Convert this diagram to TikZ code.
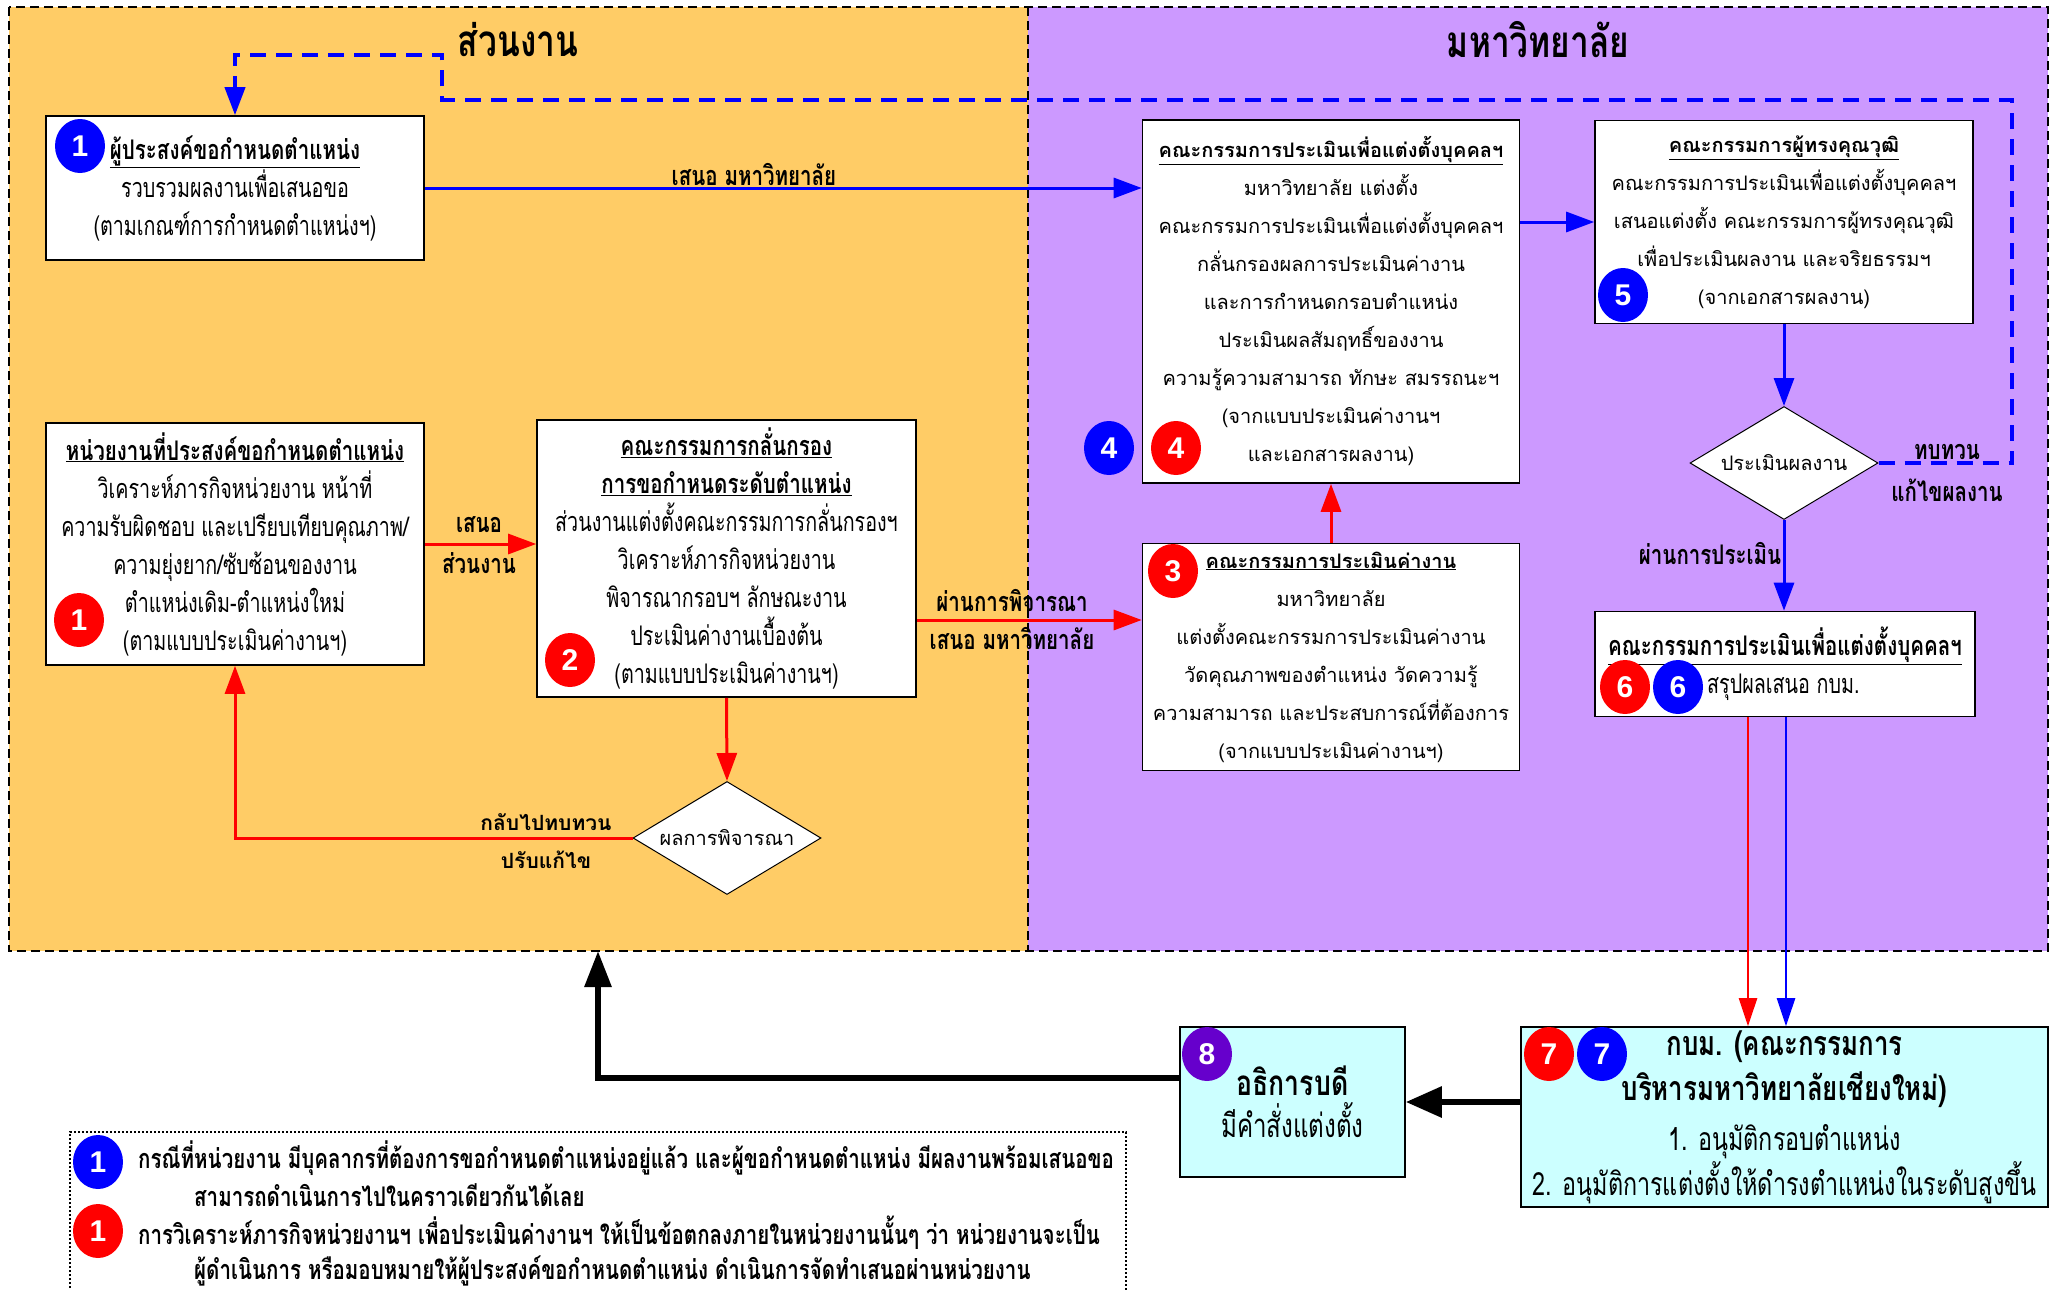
\documentclass[tikz,border=0pt]{standalone}
\usepackage{fontspec}
\usetikzlibrary{shapes.geometric,arrows.meta}
\newfontfamily\thaiN[Script=Thai,FakeStretch=0.73,BoldFeatures={FakeStretch=0.76}]{Loma}
\newfontfamily\thaiL[Script=Thai]{Loma}
\newfontfamily\numf{Liberation Sans}
\definecolor{orangebg}{RGB}{255,204,102}
\definecolor{purplebg}{RGB}{204,153,255}
\definecolor{cyanbg}{RGB}{204,255,255}
\definecolor{numpurple}{RGB}{102,0,204}
\begin{document}
\begin{tikzpicture}[x=1pt,y=-1pt,
  box/.style={draw=black,line width=1.6pt,fill=white,inner sep=0pt,align=center},
  nfont/.style={font=\thaiN\fontsize{27}{38}\selectfont},
  bfont/.style={font=\thaiN\fontsize{32}{45}\selectfont},
  lfont/.style={font=\thaiL\fontsize{20}{38}\selectfont},
  lbl/.style={font=\thaiN\bfseries\fontsize{27}{38}\selectfont,inner sep=0pt,align=center},
  num/.style={ellipse,minimum width=50pt,minimum height=54pt,inner sep=0pt,text=white,font=\numf\bfseries\fontsize{30}{30}\selectfont},
  dia/.style={diamond,draw=black,line width=1pt,fill=white,minimum width=188pt,minimum height=113pt,inner sep=0pt,aspect=1.66,font=\thaiL\fontsize{20}{24}\selectfont},
  arr/.style={-{Triangle[length=28pt,width=20pt]}},
  rarr/.style={arr,draw=red,line width=3pt},
  barr/.style={arr,draw=blue,line width=3pt},
]
\useasboundingbox (0,0) rectangle (2057,1290);
% backgrounds
\fill[orangebg] (9,7) rectangle (1028,951);
\fill[purplebg] (1028,7) rectangle (2048,951);
\draw[black,line width=1.6pt,dash pattern=on 9pt off 5pt] (9,7) rectangle (2048,951);
\draw[black,line width=1.6pt,dash pattern=on 9pt off 5pt] (1028,7) -- (1028,951);
\node[font=\thaiN\bfseries\fontsize{44}{44}\selectfont] (t1) at (518,40) {ส่วนงาน};
\node[font=\thaiN\bfseries\fontsize{44}{44}\selectfont] (t2) at (1538,40) {มหาวิทยาลัย};

% boxes
\node[box,nfont,minimum width=378pt,minimum height=144pt] (boxA) at (235,188)
  {\textbf{\underline{ผู้ประสงค์ขอกำหนดตำแหน่ง}}\\ รวบรวมผลงานเพื่อเสนอขอ\\ (ตามเกณฑ์การกำหนดตำแหน่งฯ)};
\node[box,nfont,minimum width=378pt,minimum height=242pt] (boxB) at (235,544)
  {\textbf{\underline{หน่วยงานที่ประสงค์ขอกำหนดตำแหน่ง}}\\ วิเคราะห์ภารกิจหน่วยงาน หน้าที่\\ ความรับผิดชอบ และเปรียบเทียบคุณภาพ/\\ ความยุ่งยาก/ซับซ้อนของงาน\\ ตำแหน่งเดิม-ตำแหน่งใหม่\\ (ตามแบบประเมินค่างานฯ)};
\node[box,nfont,minimum width=379pt,minimum height=277pt] (boxC) at (726.5,558.5)
  {\textbf{\underline{คณะกรรมการกลั่นกรอง}}\\ \textbf{\underline{การขอกำหนดระดับตำแหน่ง}}\\ ส่วนงานแต่งตั้งคณะกรรมการกลั่นกรองฯ\\ วิเคราะห์ภารกิจหน่วยงาน\\ พิจารณากรอบฯ ลักษณะงาน\\ ประเมินค่างานเบื้องต้น\\ (ตามแบบประเมินค่างานฯ)};
\node[box,lfont,minimum width=377pt,minimum height=363pt] (box4) at (1331,301.5)
  {\textbf{\underline{คณะกรรมการประเมินเพื่อแต่งตั้งบุคคลฯ}}\\ มหาวิทยาลัย แต่งตั้ง\\ คณะกรรมการประเมินเพื่อแต่งตั้งบุคคลฯ\\ กลั่นกรองผลการประเมินค่างาน\\ และการกำหนดกรอบตำแหน่ง\\ ประเมินผลสัมฤทธิ์ของงาน\\ ความรู้ความสามารถ ทักษะ สมรรถนะฯ\\ (จากแบบประเมินค่างานฯ\\ และเอกสารผลงาน)};
\node[box,lfont,minimum width=377pt,minimum height=227pt] (box3) at (1331,657)
  {\textbf{\underline{คณะกรรมการประเมินค่างาน}}\\ มหาวิทยาลัย\\ แต่งตั้งคณะกรรมการประเมินค่างาน\\ วัดคุณภาพของตำแหน่ง วัดความรู้\\ ความสามารถ และประสบการณ์ที่ต้องการ\\ (จากแบบประเมินค่างานฯ)};
\node[box,lfont,minimum width=378pt,minimum height=203pt] (box5) at (1784,222)
  {\textbf{\underline{คณะกรรมการผู้ทรงคุณวุฒิ}}\\ คณะกรรมการประเมินเพื่อแต่งตั้งบุคคลฯ\\ เสนอแต่งตั้ง คณะกรรมการผู้ทรงคุณวุฒิ\\ เพื่อประเมินผลงาน และจริยธรรมฯ\\ (จากเอกสารผลงาน)};
\node[box,minimum width=380pt,minimum height=105pt] (box6) at (1785,664) {};
\node[lbl] (box6t) at (1785,646) {\underline{คณะกรรมการประเมินเพื่อแต่งตั้งบุคคลฯ}};
\node[nfont,anchor=west,inner sep=0pt] (box6s) at (1707,687) {สรุปผลเสนอ กบม.};
\node[box,bfont,fill=cyanbg,minimum width=527pt,minimum height=180pt] (box7) at (1784.5,1117)
  {{\bfseries\fontsize{34}{45}\selectfont กบม. (คณะกรรมการ}\\ {\bfseries\fontsize{34}{45}\selectfont บริหารมหาวิทยาลัยเชียงใหม่)}\\[5pt] 1. อนุมัติกรอบตำแหน่ง\\ 2. อนุมัติการแต่งตั้งให้ดำรงตำแหน่งในระดับสูงขึ้น};
\node[box,font=\thaiN\fontsize{33}{42}\selectfont,fill=cyanbg,minimum width=225pt,minimum height=150pt] (box8) at (1292.5,1102)
  {{\bfseries\fontsize{35}{42}\selectfont อธิการบดี}\\ มีคำสั่งแต่งตั้ง};

% diamonds
\node[dia] (d1) at (727,838) {ผลการพิจารณา};
\node[dia] (d2) at (1784,463) {ประเมินผลงาน};

% number badges
\node[num,fill=blue] (nA) at (80,146) {1};
\node[num,fill=red] (nB) at (79,620) {1};
\node[num,fill=red] (nC) at (570,660) {2};
\node[num,fill=red] (n3) at (1173,571) {3};
\node[num,fill=blue] (n4b) at (1109,448) {4};
\node[num,fill=red] (n4r) at (1176,448) {4};
\node[num,fill=blue] (n5) at (1623,295) {5};
\node[num,fill=red] (n6r) at (1625,687) {6};
\node[num,fill=blue] (n6b) at (1678,687) {6};
\node[num,fill=red] (n7r) at (1549,1054) {7};
\node[num,fill=blue] (n7b) at (1602,1054) {7};
\node[num,fill=numpurple] (n8) at (1207,1054) {8};

% helper coordinates
\coordinate (j1) at (2012,100);
\coordinate (j2) at (442,100);
\coordinate (j3) at (442,55);
\coordinate (yC3) at (1000,620);
\coordinate (xr) at (1748,0);
\coordinate (xb) at (1786,0);
\coordinate (y8) at (0,1078);
\coordinate (ob) at (598,951);

% connectors
\draw[barr] (boxA.east) -- (boxA.east -| box4.west);
\draw[barr] (box5.west -| box4.east) -- (box5.west);
\draw[barr] (box5.south) -- (d2.north);
\draw[barr] (d2.south) -- (d2.south |- box6.north);
\draw[blue,line width=4pt,dash pattern=on 16pt off 10pt,arr] (d2.east) -| (j1) -- (j2) -- (j3) -| (boxA.north);
\draw[rarr] (boxB.east) -- (boxB.east -| boxC.west);
\draw[rarr] (yC3 -| boxC.east) -- (yC3 -| box3.west);
\draw[rarr] (box3.north) -- (box4.south);
\draw[rarr] (boxC.south) -- (d1.north);
\draw[rarr] (d1.west) -| (boxB.south);
\draw[red,line width=2.5pt,-{Triangle[length=28pt,width=18pt]}] (xr |- box6.south) -- (xr |- box7.north);
\draw[blue,line width=2.5pt,-{Triangle[length=28pt,width=18pt]}] (xb |- box6.south) -- (xb |- box7.north);
\draw[black,line width=6pt,-{Triangle[length=36pt,width=30pt]}] (box7.west |- box8.east) -- (box8.east);
\draw[black,line width=6pt,-{Triangle[length=36pt,width=26pt]}] (y8 -| box8.west) -| (ob);

% labels
\node[lbl] (l1) at (754,175) {เสนอ มหาวิทยาลัย};
\node[lbl] (l2) at (479,525) {เสนอ};
\node[lbl] (l3) at (479,563) {ส่วนงาน};
\node[lbl] (l4) at (1012,600) {ผ่านการพิจารณา};
\node[lbl] (l5) at (1012,638) {เสนอ มหาวิทยาลัย};
\node[font=\thaiL\bfseries\fontsize{21}{24}\selectfont,inner sep=0pt] (l6) at (546,822) {กลับไปทบทวน};
\node[font=\thaiL\bfseries\fontsize{21}{24}\selectfont,inner sep=0pt] (l7) at (546,860) {ปรับแก้ไข};
\node[lbl] (l8) at (1710,553) {ผ่านการประเมิน};
\node[lbl] (l9) at (1947,452) {ทบทวน};
\node[lbl] (l10) at (1947,490) {แก้ไขผลงาน};

% legend
\draw[black,line width=1.2pt,dash pattern=on 2pt off 2pt] (70,1300) -- (70,1132) -- (1126,1132) -- (1126,1300);
\node[num,fill=blue] (g1) at (98,1162) {1};
\node[num,fill=red] (g2) at (98,1231) {1};
\node[lbl,anchor=west] (g1a) at (138,1158) {กรณีที่หน่วยงาน มีบุคลากรที่ต้องการขอกำหนดตำแหน่งอยู่แล้ว และผู้ขอกำหนดตำแหน่ง มีผลงานพร้อมเสนอขอ};
\node[lbl,anchor=west] (g1b) at (194,1195) {สามารถดำเนินการไปในคราวเดียวกันได้เลย};
\node[lbl,anchor=west] (g2a) at (138,1233) {การวิเคราะห์ภารกิจหน่วยงานฯ เพื่อประเมินค่างานฯ ให้เป็นข้อตกลงภายในหน่วยงานนั้นๆ ว่า หน่วยงานจะเป็น};
\node[lbl,anchor=west] (g2b) at (194,1271) {ผู้ดำเนินการ หรือมอบหมายให้ผู้ประสงค์ขอกำหนดตำแหน่ง ดำเนินการจัดทำเสนอผ่านหน่วยงาน};
\end{tikzpicture}
\end{document}
